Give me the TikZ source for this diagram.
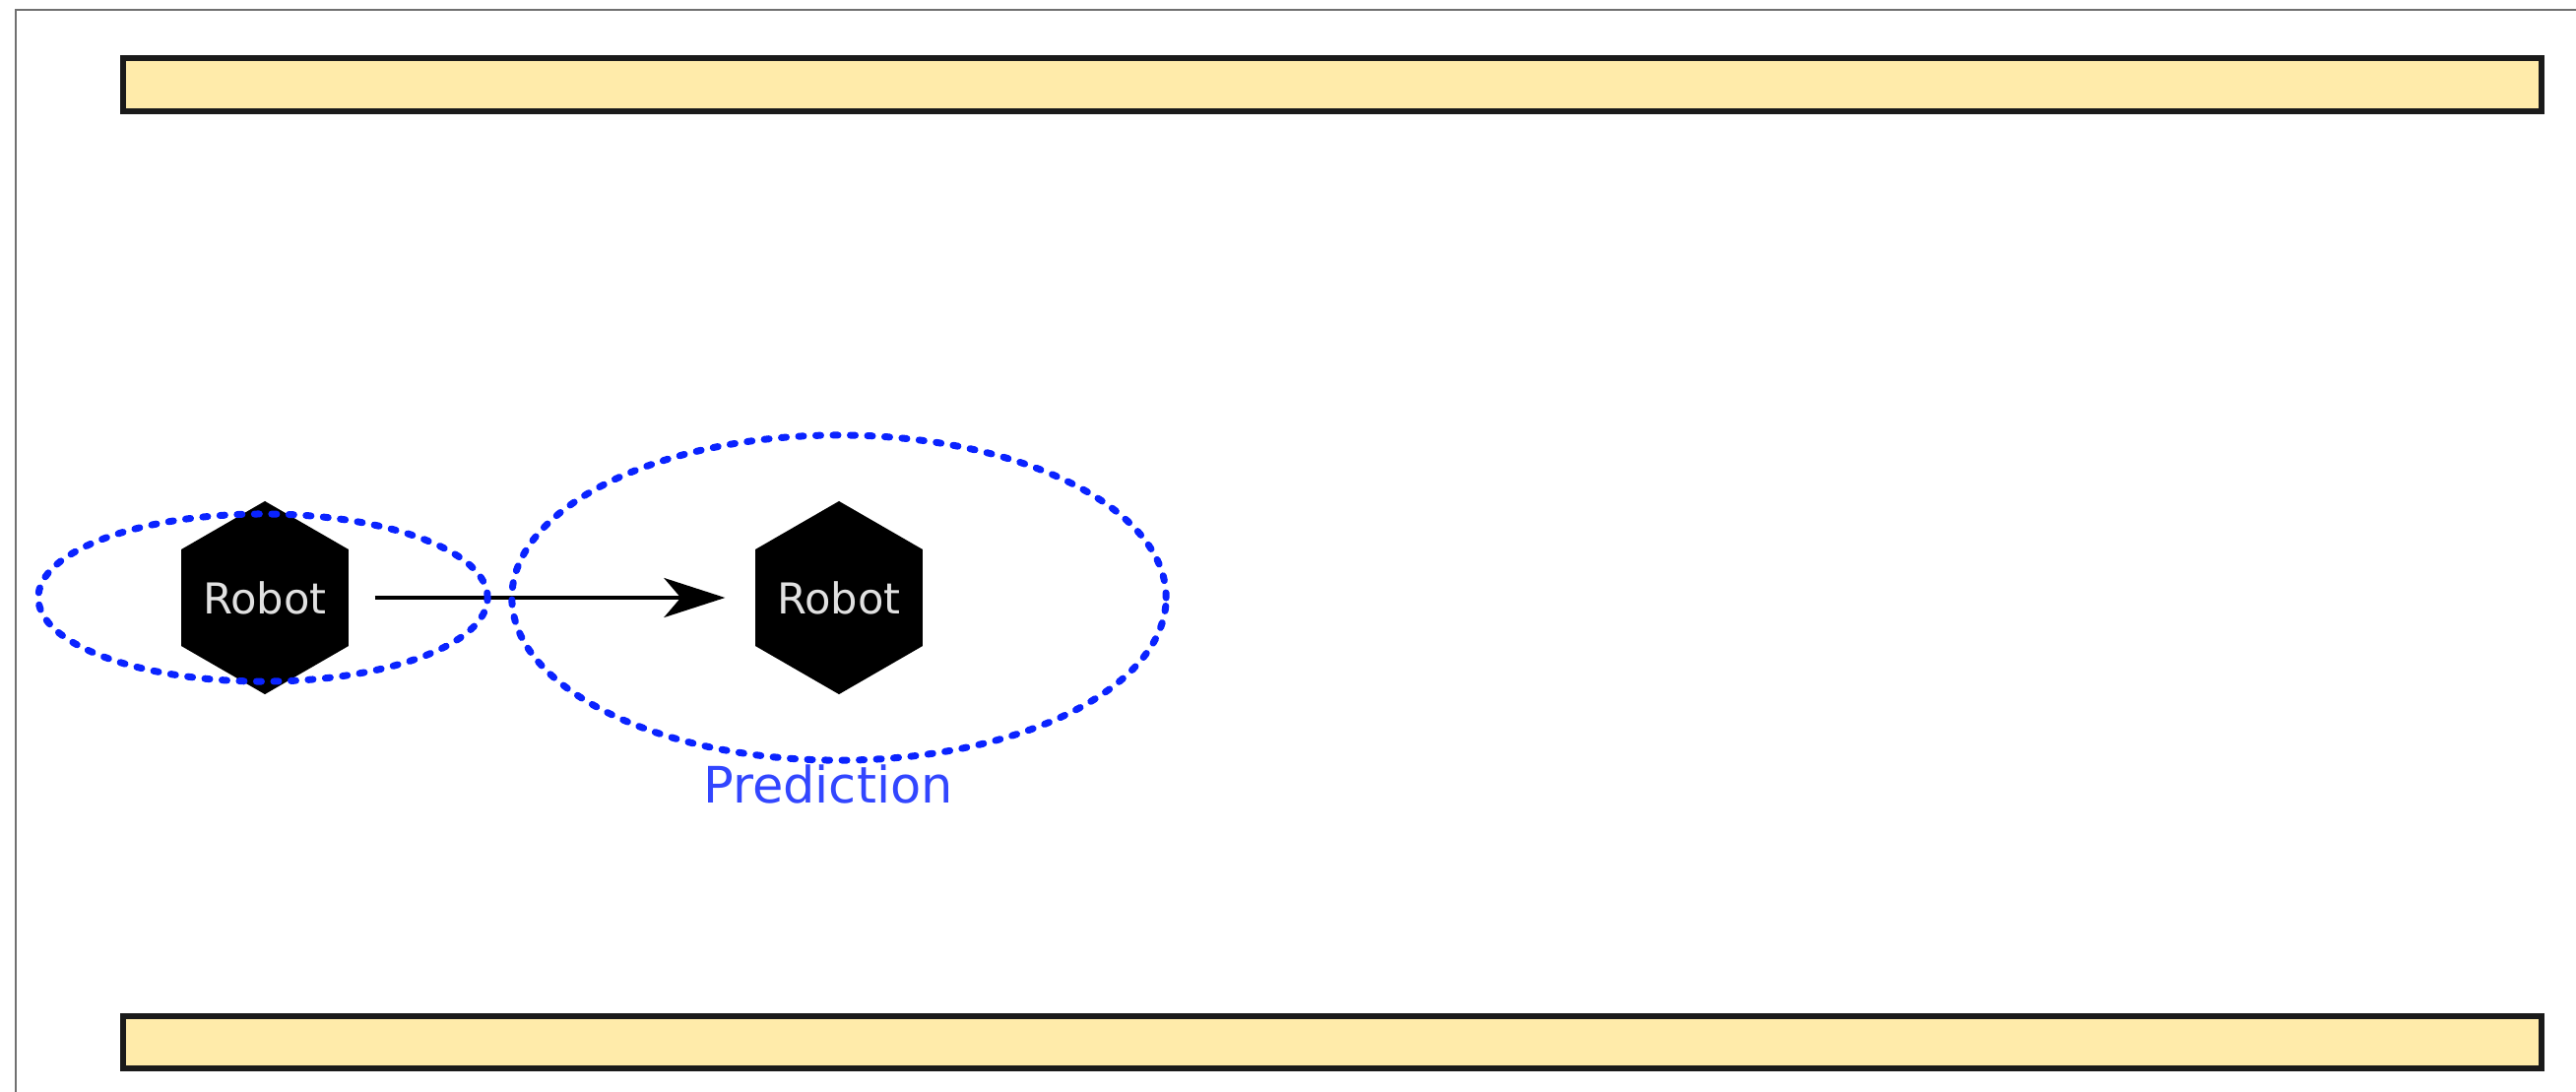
\documentclass[tikz,border=0pt]{standalone}
\usepackage{fontspec}
\setmainfont{DejaVu Sans}
\usetikzlibrary{shapes.geometric,arrows.meta}
\definecolor{wallfill}{RGB}{255,235,170}
\definecolor{wallline}{RGB}{26,26,26}
\definecolor{dotblue}{RGB}{10,35,255}
\definecolor{labelblue}{RGB}{50,70,255}
\definecolor{framegray}{RGB}{112,112,112}
\definecolor{robottext}{RGB}{225,225,225}
\tikzset{
  wall/.style={draw=wallline, fill=wallfill, line width=0.06cm, rectangle,
    minimum width=24.54cm, minimum height=0.53cm, inner sep=0pt},
  robot/.style={regular polygon, regular polygon sides=6, shape border rotate=30,
    fill=black, draw=none, minimum size=1.96cm, inner sep=-4pt,
    text=robottext, font=\fontsize{12.3}{15}\selectfont},
  uncert/.style={ellipse, draw=dotblue, line width=0.07cm, line cap=round,
    dash pattern=on 0.05cm off 0.125cm, inner sep=0pt},
  motion/.style={line width=0.04cm, -{Stealth[length=0.62cm, width=0.40cm, inset=0.17cm]}},
  predlabel/.style={text=labelblue, font=\fontsize{14.5}{17}\selectfont, inner sep=0pt}
}
\begin{document}
\begin{tikzpicture}[x=0.01cm, y=-0.01cm]
  \useasboundingbox (0,0) rectangle (2616,1108);
  \draw[framegray, line width=0.02cm] (16,1120) -- (16,10) -- (2630,10);
  \node[wall] (topwall) at (1353,86) {};
  \node[wall] (bottomwall) at (1353,1058) {};
  \node[robot] (r1) at (269,607) {Robot};
  \node[robot] (r2) at (852,607) {Robot};
  \draw[motion, shorten <=0.26cm, shorten >=0.30cm] (r1.east) -- (r2.west);
  \node[uncert, minimum width=4.56cm, minimum height=1.70cm] (e1) at (267,607) {};
  \node[uncert, minimum width=6.64cm, minimum height=3.30cm] (e2) at (852,607) {};
  \node[predlabel, anchor=base] (pred) at (841,815) {Prediction};
\end{tikzpicture}
\end{document}
